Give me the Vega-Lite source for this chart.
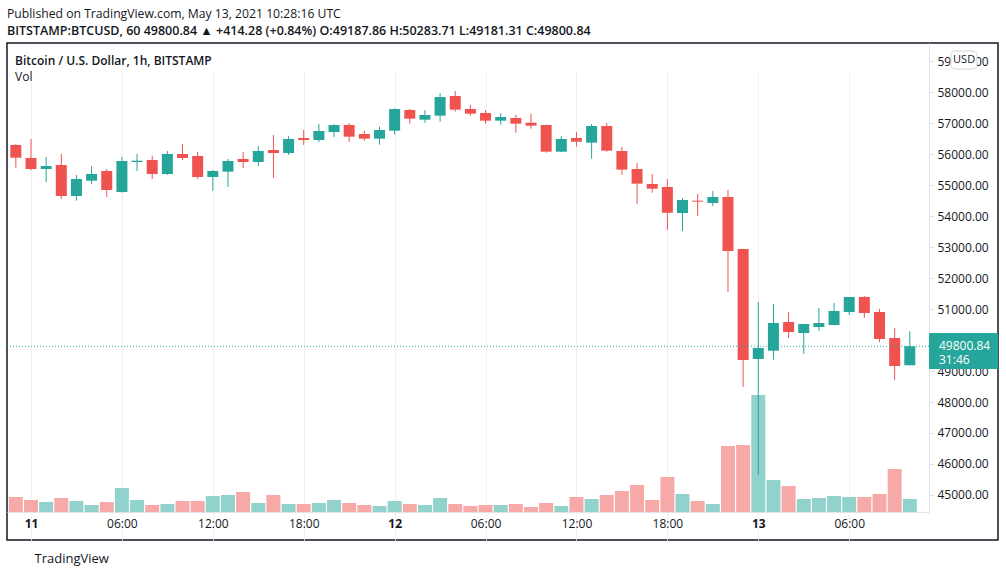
{
  "$schema": "https://vega.github.io/schema/vega-lite/v6.json",
  "width": 991,
  "height": 497,
  "autosize": {"type": "none"},
  "padding": {"left": 7, "top": 43, "right": 8, "bottom": 37},
  "background": "#ffffff",
  "title": {
    "text": "Published on TradingView.com, May 13, 2021 10:28:16 UTC",
    "subtitle": "BITSTAMP:BTCUSD, 60  49800.84 ▲ +414.28 (+0.84%) O:49187.86 H:50283.71 L:49181.31 C:49800.84",
    "anchor": "start",
    "frame": "group",
    "font": "Open Sans",
    "fontSize": 12.2,
    "fontWeight": "normal",
    "color": "#131722",
    "subtitleFont": "Open Sans",
    "subtitleFontSize": 12.5,
    "subtitleFontWeight": 600,
    "subtitleColor": "#131722",
    "subtitlePadding": 4,
    "offset": 6
  },
  "data": {
    "values": [
      {"t": "2021-05-10T23:00:00Z", "open": 56299, "high": 56331, "low": 55567, "close": 55890, "vol": 375},
      {"t": "2021-05-11T00:00:00Z", "open": 55879, "high": 56493, "low": 55492, "close": 55524, "vol": 300},
      {"t": "2021-05-11T01:00:00Z", "open": 55524, "high": 55912, "low": 55104, "close": 55621, "vol": 250},
      {"t": "2021-05-11T02:00:00Z", "open": 55653, "high": 56008, "low": 54556, "close": 54652, "vol": 350},
      {"t": "2021-05-11T03:00:00Z", "open": 54652, "high": 55330, "low": 54502, "close": 55201, "vol": 275},
      {"t": "2021-05-11T04:00:00Z", "open": 55147, "high": 55621, "low": 55040, "close": 55363, "vol": 175},
      {"t": "2021-05-11T05:00:00Z", "open": 55460, "high": 55524, "low": 54620, "close": 54846, "vol": 250},
      {"t": "2021-05-11T06:00:00Z", "open": 54782, "high": 55912, "low": 54760, "close": 55782, "vol": 600},
      {"t": "2021-05-11T07:00:00Z", "open": 55750, "high": 56008, "low": 55460, "close": 55793, "vol": 300},
      {"t": "2021-05-11T08:00:00Z", "open": 55815, "high": 55955, "low": 55201, "close": 55363, "vol": 175},
      {"t": "2021-05-11T09:00:00Z", "open": 55363, "high": 56105, "low": 55340, "close": 56008, "vol": 200},
      {"t": "2021-05-11T10:00:00Z", "open": 56008, "high": 56331, "low": 55815, "close": 55879, "vol": 275},
      {"t": "2021-05-11T11:00:00Z", "open": 55944, "high": 56073, "low": 55201, "close": 55266, "vol": 275},
      {"t": "2021-05-11T12:00:00Z", "open": 55266, "high": 55492, "low": 54825, "close": 55460, "vol": 400},
      {"t": "2021-05-11T13:00:00Z", "open": 55438, "high": 55847, "low": 54943, "close": 55782, "vol": 425},
      {"t": "2021-05-11T14:00:00Z", "open": 55847, "high": 56073, "low": 55556, "close": 55750, "vol": 500},
      {"t": "2021-05-11T15:00:00Z", "open": 55750, "high": 56267, "low": 55621, "close": 56105, "vol": 225},
      {"t": "2021-05-11T16:00:00Z", "open": 56138, "high": 56622, "low": 55234, "close": 56041, "vol": 425},
      {"t": "2021-05-11T17:00:00Z", "open": 56041, "high": 56590, "low": 55976, "close": 56493, "vol": 200},
      {"t": "2021-05-11T18:00:00Z", "open": 56525, "high": 56783, "low": 56299, "close": 56461, "vol": 200},
      {"t": "2021-05-11T19:00:00Z", "open": 56461, "high": 56977, "low": 56396, "close": 56751, "vol": 225},
      {"t": "2021-05-11T20:00:00Z", "open": 56719, "high": 56977, "low": 56557, "close": 56945, "vol": 300},
      {"t": "2021-05-11T21:00:00Z", "open": 56945, "high": 56999, "low": 56407, "close": 56568, "vol": 225},
      {"t": "2021-05-11T22:00:00Z", "open": 56654, "high": 56751, "low": 56439, "close": 56504, "vol": 175},
      {"t": "2021-05-11T23:00:00Z", "open": 56504, "high": 56891, "low": 56310, "close": 56784, "vol": 150},
      {"t": "2021-05-12T00:00:00Z", "open": 56762, "high": 57480, "low": 56633, "close": 57462, "vol": 275},
      {"t": "2021-05-12T01:00:00Z", "open": 57429, "high": 57462, "low": 56988, "close": 57149, "vol": 200},
      {"t": "2021-05-12T02:00:00Z", "open": 57117, "high": 57429, "low": 57020, "close": 57268, "vol": 175},
      {"t": "2021-05-12T03:00:00Z", "open": 57246, "high": 57978, "low": 57053, "close": 57849, "vol": 350},
      {"t": "2021-05-12T04:00:00Z", "open": 57881, "high": 58043, "low": 57376, "close": 57440, "vol": 200},
      {"t": "2021-05-12T05:00:00Z", "open": 57462, "high": 57591, "low": 57246, "close": 57311, "vol": 150},
      {"t": "2021-05-12T06:00:00Z", "open": 57332, "high": 57429, "low": 56988, "close": 57085, "vol": 175},
      {"t": "2021-05-12T07:00:00Z", "open": 57085, "high": 57332, "low": 56956, "close": 57203, "vol": 175},
      {"t": "2021-05-12T08:00:00Z", "open": 57171, "high": 57268, "low": 56697, "close": 56988, "vol": 200},
      {"t": "2021-05-12T09:00:00Z", "open": 57020, "high": 57300, "low": 56827, "close": 56923, "vol": 125},
      {"t": "2021-05-12T10:00:00Z", "open": 56945, "high": 56960, "low": 56052, "close": 56084, "vol": 225},
      {"t": "2021-05-12T11:00:00Z", "open": 56084, "high": 56590, "low": 56070, "close": 56493, "vol": 150},
      {"t": "2021-05-12T12:00:00Z", "open": 56525, "high": 56719, "low": 56245, "close": 56407, "vol": 375},
      {"t": "2021-05-12T13:00:00Z", "open": 56375, "high": 56977, "low": 55858, "close": 56913, "vol": 325},
      {"t": "2021-05-12T14:00:00Z", "open": 56913, "high": 57010, "low": 56084, "close": 56116, "vol": 425},
      {"t": "2021-05-12T15:00:00Z", "open": 56105, "high": 56235, "low": 55341, "close": 55503, "vol": 525},
      {"t": "2021-05-12T16:00:00Z", "open": 55524, "high": 55718, "low": 54405, "close": 55051, "vol": 675},
      {"t": "2021-05-12T17:00:00Z", "open": 55040, "high": 55363, "low": 54760, "close": 54889, "vol": 300},
      {"t": "2021-05-12T18:00:00Z", "open": 54943, "high": 55201, "low": 53560, "close": 54110, "vol": 875},
      {"t": "2021-05-12T19:00:00Z", "open": 54104, "high": 54588, "low": 53523, "close": 54523, "vol": 450},
      {"t": "2021-05-12T20:00:00Z", "open": 54502, "high": 54717, "low": 54007, "close": 54470, "vol": 275},
      {"t": "2021-05-12T21:00:00Z", "open": 54427, "high": 54814, "low": 54330, "close": 54620, "vol": 200},
      {"t": "2021-05-12T22:00:00Z", "open": 54620, "high": 54846, "low": 51553, "close": 52877, "vol": 1650},
      {"t": "2021-05-12T23:00:00Z", "open": 52941, "high": 52950, "low": 48486, "close": 49357, "vol": 1675},
      {"t": "2021-05-13T00:00:00Z", "open": 49390, "high": 51230, "low": 45650, "close": 49745, "vol": 2925},
      {"t": "2021-05-13T01:00:00Z", "open": 49658, "high": 51165, "low": 49368, "close": 50552, "vol": 800},
      {"t": "2021-05-13T02:00:00Z", "open": 50584, "high": 50907, "low": 50067, "close": 50261, "vol": 650},
      {"t": "2021-05-13T03:00:00Z", "open": 50229, "high": 50520, "low": 49551, "close": 50520, "vol": 325},
      {"t": "2021-05-13T04:00:00Z", "open": 50423, "high": 51036, "low": 50294, "close": 50552, "vol": 350},
      {"t": "2021-05-13T05:00:00Z", "open": 50488, "high": 51198, "low": 50470, "close": 50939, "vol": 400},
      {"t": "2021-05-13T06:00:00Z", "open": 50907, "high": 51391, "low": 50810, "close": 51391, "vol": 375},
      {"t": "2021-05-13T07:00:00Z", "open": 51391, "high": 51424, "low": 50714, "close": 50875, "vol": 375},
      {"t": "2021-05-13T08:00:00Z", "open": 50907, "high": 51004, "low": 49938, "close": 50035, "vol": 450},
      {"t": "2021-05-13T09:00:00Z", "open": 50067, "high": 50390, "low": 48711, "close": 49163, "vol": 1075},
      {"t": "2021-05-13T10:00:00Z", "open": 49187.86, "high": 50283.71, "low": 49181.31, "close": 49800.84, "vol": 325}
    ]
  },
  "layer": [
    {
      "mark": {"type": "bar", "width": 14},
      "encoding": {
        "x": {
          "field": "t",
          "type": "temporal",
          "scale": {
            "type": "utc",
            "nice": false,
            "padding": 0,
            "domain": [
              {"year": 2021, "month": 5, "date": 10, "hours": 22, "minutes": 25, "utc": true},
              {"year": 2021, "month": 5, "date": 13, "hours": 11, "minutes": 16, "utc": true}
            ],
            "range": [0, 922]
          },
          "axis": {
            "orient": "bottom",
            "offset": -28,
            "values": [
              {"year": 2021, "month": 5, "date": 11, "hours": 0, "utc": true},
              {"year": 2021, "month": 5, "date": 11, "hours": 6, "utc": true},
              {"year": 2021, "month": 5, "date": 11, "hours": 12, "utc": true},
              {"year": 2021, "month": 5, "date": 11, "hours": 18, "utc": true},
              {"year": 2021, "month": 5, "date": 12, "hours": 0, "utc": true},
              {"year": 2021, "month": 5, "date": 12, "hours": 6, "utc": true},
              {"year": 2021, "month": 5, "date": 12, "hours": 12, "utc": true},
              {"year": 2021, "month": 5, "date": 12, "hours": 18, "utc": true},
              {"year": 2021, "month": 5, "date": 13, "hours": 0, "utc": true},
              {"year": 2021, "month": 5, "date": 13, "hours": 6, "utc": true}
            ],
            "labelExpr": "utchours(datum.value) == 0 ? '' + utcdate(datum.value) : utcFormat(datum.value, '%H:%M')",
            "labelFontWeight": {"condition": {"test": "utchours(datum.value) == 0", "value": "bold"}, "value": "normal"},
            "labelFont": "Open Sans",
            "labelFontSize": 12,
            "labelColor": "#131722",
            "labelPadding": 6,
            "labelOverlap": false,
            "labelFlush": false,
            "ticks": false,
            "domainColor": "#e0e3eb",
            "gridColor": "#eef0f3",
            "title": "TradingView",
            "titleFont": "Open Sans",
            "titleFontSize": 13,
            "titleFontWeight": "normal",
            "titleColor": "#131722",
            "titleAnchor": "start",
            "titleAlign": "left",
            "titleBaseline": "middle",
            "titleX": 27,
            "titleY": 46
          }
        },
        "y": {
          "field": "vol",
          "type": "quantitative",
          "scale": {"domain": [0, 11725], "range": [469, 0], "nice": false},
          "axis": null
        },
        "color": {
          "condition": {"test": "datum.close >= datum.open", "value": "#92d2cc"},
          "value": "#f7a9a8"
        }
      }
    },
    {
      "mark": {"type": "rule", "strokeWidth": 1},
      "encoding": {
        "x": {"field": "t", "type": "temporal"},
        "y": {
          "field": "low",
          "type": "quantitative",
          "scale": {"domain": [44449, 59593], "range": [469, 0], "nice": false, "zero": false, "padding": 0},
          "axis": {
            "orient": "right",
            "offset": -69,
            "title": null,
            "values": [45000, 46000, 47000, 48000, 49000, 50000, 51000, 52000, 53000, 54000, 55000, 56000, 57000, 58000, 59000],
            "format": ".2f",
            "labelFont": "Open Sans",
            "labelFontSize": 12,
            "labelColor": "#131722",
            "labelPadding": 3,
            "labelOverlap": false,
            "labelFlush": false,
            "tickSize": 5,
            "tickColor": "#e0e3eb",
            "domainColor": "#e0e3eb",
            "gridColor": "#eef0f3"
          }
        },
        "y2": {"field": "high"},
        "color": {
          "condition": {"test": "datum.close >= datum.open", "value": "#26a69a"},
          "value": "#ef5350"
        }
      }
    },
    {
      "mark": {"type": "bar", "width": 11},
      "encoding": {
        "x": {"field": "t", "type": "temporal"},
        "y": {
          "field": "open",
          "type": "quantitative",
          "scale": {"domain": [44449, 59593], "range": [469, 0], "nice": false, "zero": false, "padding": 0},
          "axis": null
        },
        "y2": {"field": "close"},
        "color": {
          "condition": {"test": "datum.close >= datum.open", "value": "#26a69a"},
          "value": "#ef5350"
        }
      }
    },
    {
      "data": {"values": [{"price": 49800.84}]},
      "mark": {"type": "rule", "color": "#26a69a", "strokeDash": [1, 2], "strokeWidth": 1},
      "encoding": {
        "y": {
          "field": "price",
          "type": "quantitative",
          "scale": {"domain": [44449, 59593], "range": [469, 0], "nice": false, "zero": false, "padding": 0},
          "axis": null
        }
      }
    },
    {
      "data": {"values": [{"price": 49800.84}]},
      "mark": {"type": "rect", "color": "#26a69a"},
      "encoding": {
        "x": {"datum": {"year": 2021, "month": 5, "date": 13, "hours": 11, "minutes": 16, "utc": true}, "type": "temporal"},
        "x2": {"datum": {"year": 2021, "month": 5, "date": 13, "hours": 15, "minutes": 49, "utc": true}},
        "y": {
          "datum": 50229,
          "type": "quantitative",
          "scale": {"domain": [44449, 59593], "range": [469, 0], "nice": false, "zero": false, "padding": 0},
          "axis": null
        },
        "y2": {"datum": 49066}
      }
    },
    {
      "data": {"values": [{"price": 49800.84}]},
      "mark": {"type": "text", "align": "left", "baseline": "middle", "dx": 10, "color": "#ffffff", "font": "Open Sans", "fontSize": 12, "lineHeight": 14},
      "encoding": {
        "x": {"datum": {"year": 2021, "month": 5, "date": 13, "hours": 11, "minutes": 16, "utc": true}, "type": "temporal"},
        "y": {
          "field": "price",
          "type": "quantitative",
          "scale": {"domain": [44449, 59593], "range": [469, 0], "nice": false, "zero": false, "padding": 0},
          "axis": null
        },
        "text": {"value": ["49800.84", "31:46"]}
      }
    },
    {
      "data": {"values": [{"label": "USD"}]},
      "mark": {"type": "rect", "fill": "#ffffff", "stroke": "#d1d4dc", "strokeWidth": 1, "cornerRadius": 4},
      "encoding": {
        "x": {"datum": {"year": 2021, "month": 5, "date": 13, "hours": 12, "minutes": 43, "utc": true}, "type": "temporal"},
        "x2": {"datum": {"year": 2021, "month": 5, "date": 13, "hours": 14, "minutes": 26, "utc": true}},
        "y": {
          "datum": 59335,
          "type": "quantitative",
          "scale": {"domain": [44449, 59593], "range": [469, 0], "nice": false, "zero": false, "padding": 0},
          "axis": null
        },
        "y2": {"datum": 58753}
      }
    },
    {
      "data": {"values": [{"label": "USD"}]},
      "mark": {"type": "text", "align": "center", "baseline": "middle", "color": "#131722", "font": "Open Sans", "fontSize": 11},
      "encoding": {
        "x": {"datum": {"year": 2021, "month": 5, "date": 13, "hours": 13, "minutes": 35, "utc": true}, "type": "temporal"},
        "y": {
          "datum": 59044,
          "type": "quantitative",
          "scale": {"domain": [44449, 59593], "range": [469, 0], "nice": false, "zero": false, "padding": 0},
          "axis": null
        },
        "text": {"field": "label"}
      }
    },
    {
      "data": {"values": [{"label": "Bitcoin / U.S. Dollar, 1h, BITSTAMP"}]},
      "mark": {"type": "text", "align": "left", "baseline": "middle", "color": "#131722", "font": "Open Sans", "fontSize": 12, "fontWeight": 600},
      "encoding": {
        "x": {"datum": {"year": 2021, "month": 5, "date": 10, "hours": 22, "minutes": 57, "utc": true}, "type": "temporal"},
        "y": {
          "datum": 59012,
          "type": "quantitative",
          "scale": {"domain": [44449, 59593], "range": [469, 0], "nice": false, "zero": false, "padding": 0},
          "axis": null
        },
        "text": {"field": "label"}
      }
    },
    {
      "data": {"values": [{"label": "Vol"}]},
      "mark": {"type": "text", "align": "left", "baseline": "middle", "color": "#131722", "font": "Open Sans", "fontSize": 12},
      "encoding": {
        "x": {"datum": {"year": 2021, "month": 5, "date": 10, "hours": 22, "minutes": 57, "utc": true}, "type": "temporal"},
        "y": {
          "datum": 58495,
          "type": "quantitative",
          "scale": {"domain": [44449, 59593], "range": [469, 0], "nice": false, "zero": false, "padding": 0},
          "axis": null
        },
        "text": {"field": "label"}
      }
    }
  ],
  "resolve": {"scale": {"y": "independent"}, "axis": {"y": "independent"}},
  "config": {
    "view": {"stroke": "#131722", "strokeWidth": 1.5},
    "text": {"font": "Open Sans"},
    "axis": {"labelOverlap": false}
  }
}
